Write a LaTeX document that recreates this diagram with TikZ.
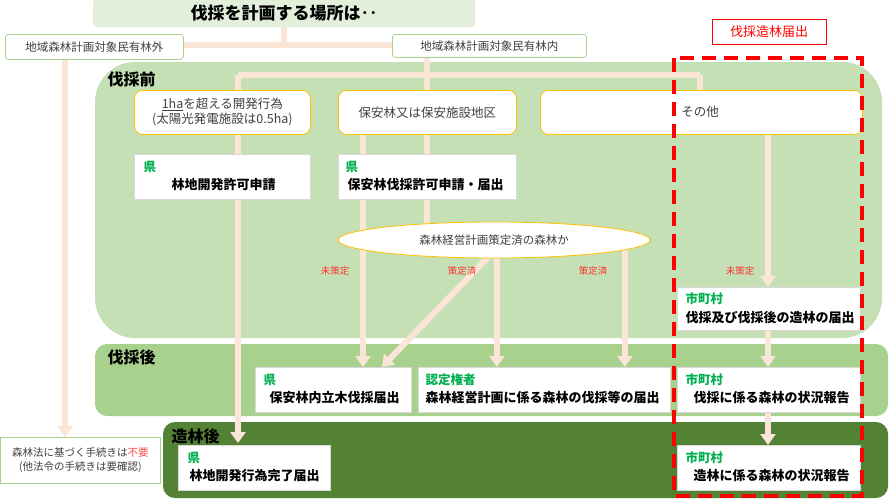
\documentclass[tikz,border=0pt]{standalone}
\usepackage{fontspec}
\setmainfont{Noto Sans CJK JP}
\usetikzlibrary{arrows.meta,shapes.geometric}
\definecolor{pipe}{HTML}{FBE5D6}
\definecolor{zoneA}{HTML}{C5E0B4}
\definecolor{zoneB}{HTML}{A9D18E}
\definecolor{zoneC}{HTML}{548235}
\definecolor{lgreen}{HTML}{E2EFDA}
\definecolor{bgreen}{HTML}{A9D18E}
\definecolor{ybord}{HTML}{FFC000}
\definecolor{jg}{HTML}{00B050}
\definecolor{rd}{HTML}{FF0000}
\definecolor{txt}{HTML}{404040}
\tikzset{
 pipeline/.style={draw=pipe,line width=6pt},
 arr/.style={pipeline,-{Triangle[width=15pt,length=11pt]}},
 pbox/.style={draw=bgreen,fill=white,rounded corners=3pt,line width=0.8pt,font=\fontsize{11.5}{13}\selectfont,text=txt,inner sep=0pt},
 ybox/.style={draw=ybord,fill=white,rounded corners=8pt,line width=0.8pt,font=\fontsize{12.5}{15}\selectfont,text=txt,inner sep=0pt},
 wbox/.style={fill=white,draw=white!85!black,line width=0.4pt,inner sep=0pt},
 zlab/.style={font=\bfseries\fontsize{16}{18}\selectfont,anchor=west},
 org/.style={text=jg,font=\bfseries\fontsize{12.5}{14}\selectfont,anchor=west},
 act/.style={font=\bfseries\fontsize{13}{15}\selectfont,anchor=west},
 rlab/.style={text=rd!80,font=\fontsize{9.5}{11}\selectfont},
}
\begin{document}
\begin{tikzpicture}[x=1pt,y=-1pt]
\useasboundingbox (0,0) rectangle (890,501);
% zones
\fill[zoneA,rounded corners=40pt] (95,62) rectangle (882,338);
\fill[zoneB,rounded corners=12pt] (95,344) rectangle (888,416);
\fill[zoneC,rounded corners=12pt] (163,422) rectangle (888,498);
\node[zlab] (zA) at (104,79) {伐採前};
\node[zlab] (zB) at (104,357) {伐採後};
\node[zlab,text=black] (zC) at (168,436) {造林後};
% coordinates
\coordinate (tj) at (284,45);
\coordinate (h1) at (238,75);
\coordinate (h2) at (700,75);
\coordinate (endOut) at (65,437);
% pipes (behind boxes)
\draw[pipeline] (284,20) -- (tj);
\draw[pipeline] (150,45) -- (450,45);
\draw[pipeline] (427,50) -- (427,75);
\draw[pipeline] (h1) -- (h2);
\draw[pipeline] (427,75) -- (427,230);
\draw[pipeline] (h2) -- (700,100);
\draw[arr] (h1) -- (238,443) coordinate (k1end);
\draw[arr] (65,50) -- (endOut);
\draw[arr] (363,110) -- (363,367);
\draw[arr] (768,110) -- (768,287);
\draw[arr] (768,320) -- (768,367);
\draw[arr] (768,400) -- (768,445);
\draw[arr] (495,250) -- (382,367);
\draw[arr] (497,250) -- (497,367);
\draw[arr] (625,250) -- (625,367);
% top nodes
\node[fill=lgreen,rounded corners=4pt,minimum width=382pt,minimum height=29pt,anchor=north west] (top) at (93,-2) {};
\node[font=\bfseries\fontsize{17}{19}\selectfont] (toptxt) at (284,13) {伐採を計画する場所は‥};
\node[pbox,minimum width=178pt,minimum height=25pt,anchor=north west] (outside) at (5,34) {地域森林計画対象民有林外};
\node[pbox,minimum width=194pt,minimum height=23pt,anchor=north west] (inside) at (392,34) {地域森林計画対象民有林内};
% row 1
\node[ybox,minimum width=176pt,minimum height=44pt,anchor=north west,align=center] (b1) at (134,90) {\underline{1ha}を超える開発行為\\(太陽光発電施設は0.5ha)};
\node[ybox,minimum width=178pt,minimum height=44pt,anchor=north west] (b2) at (338,90) {保安林又は保安施設地区};
\node[ybox,minimum width=322pt,minimum height=44pt,anchor=north west] (b3) at (540,90) {};
\node[font=\fontsize{12.5}{15}\selectfont,text=txt] (b3t) at (700,112) {その他};
% row 2
\node[wbox,minimum width=176pt,minimum height=45pt,anchor=north west] (r1) at (134,154) {};
\node[org] at (140,167) {県};
\node[act] at (168,185) {林地開発許可申請};
\node[wbox,minimum width=178pt,minimum height=45pt,anchor=north west] (r2) at (338,154) {};
\node[org] at (342,167) {県};
\node[act] at (344,185) {保安林伐採許可申請・届出};
\node[ellipse,draw=ybord,fill=white,line width=0.8pt,minimum width=312pt,minimum height=36pt,font=\fontsize{11.5}{13}\selectfont,text=txt] (ell) at (494,240) {森林経営計画策定済の森林か};
\node[rlab] (l1) at (335,271) {未策定};
\node[rlab] (l2) at (462,271) {策定済};
\node[rlab] (l3) at (593,271) {策定済};
\node[rlab] (l4) at (740,271) {未策定};
\node[wbox,minimum width=183pt,minimum height=43pt,anchor=north west] (m1) at (677,287) {};
\node[org] at (682,299) {市町村};
\node[act] at (682,318) {伐採及び伐採後の造林の届出};
% after harvest
\node[wbox,minimum width=156pt,minimum height=45pt,anchor=north west] (a1) at (255,367) {};
\node[org] at (260,380) {県};
\node[act] at (266,398) {保安林内立木伐採届出};
\node[wbox,minimum width=252pt,minimum height=45pt,anchor=north west] (a2) at (418,367) {};
\node[org] at (422,380) {認定権者};
\node[act] at (422,398) {森林経営計画に係る森林の伐採等の届出};
\node[wbox,minimum width=183pt,minimum height=45pt,anchor=north west] (m2) at (677,367) {};
\node[org] at (682,380) {市町村};
\node[act] at (690,398) {伐採に係る森林の状況報告};
% after planting
\node[wbox,minimum width=152pt,minimum height=45pt,anchor=north west] (c1) at (178,445) {};
\node[org] at (184,458) {県};
\node[act] at (186,476) {林地開発行為完了届出};
\node[wbox,minimum width=183pt,minimum height=45pt,anchor=north west] (m3) at (677,445) {};
\node[org] at (682,458) {市町村};
\node[act] at (690,476) {造林に係る森林の状況報告};
% outside result
\node[draw=bgreen,fill=white,line width=0.8pt,minimum width=160pt,minimum height=46pt,anchor=north west,align=center,font=\fontsize{10.5}{14}\selectfont,text=txt,inner sep=0pt] (none) at (0,437) {森林法に基づく手続きは\textcolor{rd!70}{不要}\\(他法令の手続きは要確認)};
% red dashed
\draw[rd,line width=3.5pt,dash pattern=on 14pt off 8pt] (674,58) rectangle (862,496);
\node[draw=rd,line width=1pt,fill=white,text=rd,minimum width=114pt,minimum height=25pt,font=\fontsize{13}{15}\selectfont,inner sep=0pt] (rl) at (769,32) {伐採造林届出};
\end{tikzpicture}
\end{document}
